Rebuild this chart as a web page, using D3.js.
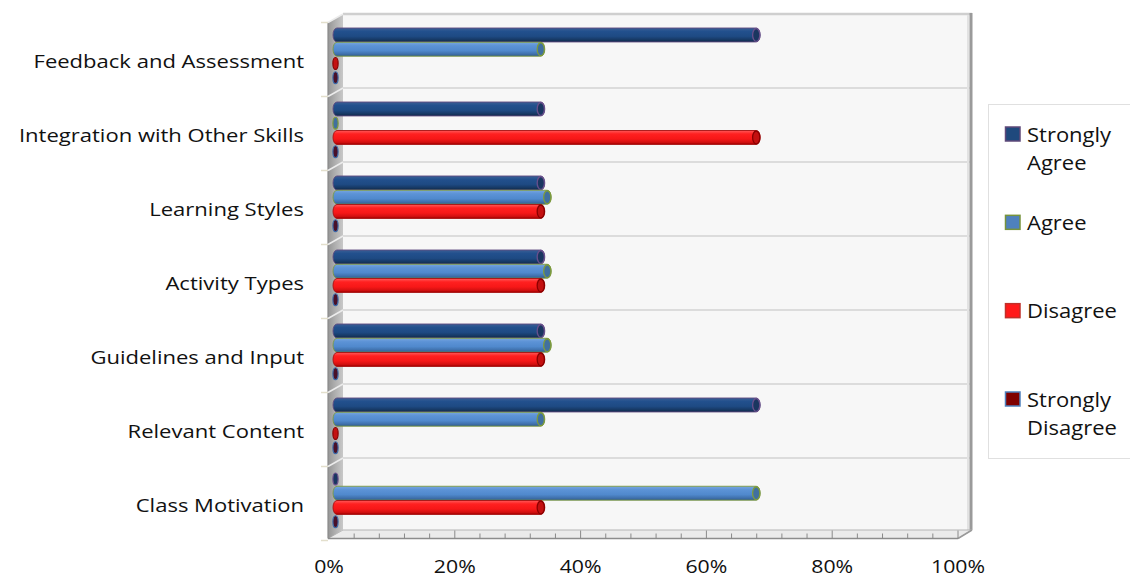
<!DOCTYPE html>
<html>
<head>
<meta charset="utf-8">
<script src="https://cdn.jsdelivr.net/npm/d3@7/dist/d3.min.js"></script>
<style>
  html, body { margin: 0; padding: 0; background: #ffffff; }
  svg { display: block; }
  text { font-family: "Open Sans", "Liberation Sans", sans-serif; fill: #111; }
</style>
</head>
<body>
<svg id="chart" width="1130" height="579"></svg>
<script>
const categories = ["Feedback and Assessment", "Integration with Other Skills", "Learning Styles",
  "Activity Types", "Guidelines and Input", "Relevant Content", "Class Motivation"];
const series = ["Strongly Agree", "Agree", "Disagree", "Strongly Disagree"];
const stronglyAgree    = [66.7, 33.3, 33.3, 33.3, 33.3, 66.7, 0];
const agree            = [33.3, 0, 34.3, 34.3, 34.3, 33.3, 66.7];
const disagree         = [0, 66.7, 33.3, 33.3, 33.3, 0, 33.3];
const stronglyDisagree = [0, 0, 0, 0, 0, 0, 0];
const tickValues = [0, 20, 40, 60, 80, 100];
const tickLabels = ["0%", "20%", "40%", "60%", "80%", "100%"];

const seriesValues = [stronglyAgree, agree, disagree, stronglyDisagree];

const svg = d3.select("#chart");
const defs = svg.append("defs");

// geometry
const wallTop = 14, wallBottom = 530;
const dx = 15, dy = 8.5;           // 3D depth offset
const backLeft = 343, backRight = 972;
const frontLeft = backLeft - dx, frontRight = 958;

const yBand = d3.scaleBand().domain(categories).range([wallTop, wallBottom + 2]);
const ySeries = d3.scaleBand().domain(series).range([14, 71]);
const xFront = d3.scaleLinear().domain([0, 100]).range([329, 958]);
const xBar = d3.scaleLinear().domain([0, 100]).range([330, 975]);

const styles = {
  "Strongly Agree":    {stops: ["#3b5f95", "#22508d", "#1e4a83", "#163863", "#0f2848"], stroke: "#5f4a80", cap: "#1a3660", capStroke: "#6a4f8c", swatch: "#1f497d", swatchStroke: "#5f497a"},
  "Agree":             {stops: ["#78a6df", "#5c93d6", "#5089cd", "#3f70ab", "#2f5a8c"], stroke: "#7d9a3e", cap: "#41709f", capStroke: "#7f9c3a", swatch: "#4f81bd", swatchStroke: "#77933c"},
  "Disagree":          {stops: ["#ff5a5a", "#ff2020", "#f71818", "#d21010", "#a00000"], stroke: "#a51010", cap: "#c41010", capStroke: "#8a0000", swatch: "#ff1a1a", swatchStroke: "#c0302a"},
  "Strongly Disagree": {stops: ["#7a2030", "#5a1020", "#4a0f1e", "#3a1026", "#2a0c1e"], stroke: "#3f6aa8", cap: "#4a1028", capStroke: "#3f6aa8", swatch: "#7f0000", swatchStroke: "#4f81bd"}
};

series.forEach((s, i) => {
  const g = defs.append("linearGradient").attr("id", "grad" + i)
    .attr("x1", 0).attr("y1", 0).attr("x2", 0).attr("y2", 1);
  [0, 0.25, 0.6, 0.85, 1].forEach((o, k) => g.append("stop").attr("offset", o).attr("stop-color", styles[s].stops[k]));
});
const wallGrad = defs.append("linearGradient").attr("id", "wallGrad").attr("x1", 0).attr("y1", 0).attr("x2", 1).attr("y2", 0);
wallGrad.append("stop").attr("offset", 0).attr("stop-color", "#959595");
wallGrad.append("stop").attr("offset", 0.5).attr("stop-color", "#b0b0b0");
wallGrad.append("stop").attr("offset", 1).attr("stop-color", "#c8c8c8");

// back wall
svg.append("rect").attr("x", backLeft).attr("y", wallTop).attr("width", backRight - backLeft).attr("height", wallBottom - wallTop)
  .attr("fill", "#f7f7f7");
svg.append("line").attr("x1", backLeft).attr("x2", backRight).attr("y1", wallTop).attr("y2", wallTop)
  .attr("stroke", "#cfcfcf").attr("stroke-width", 2.5);

// gridlines at category boundaries
const boundaries = categories.map(c => yBand(c)).concat([yBand.range()[1]]);
svg.append("g").selectAll("line").data(boundaries.slice(1, -1)).join("line")
  .attr("x1", backLeft).attr("x2", backRight).attr("y1", d => d).attr("y2", d => d)
  .attr("stroke", "#dcdcdc").attr("stroke-width", 2);

// right edge of back wall
svg.append("line").attr("x1", backRight - 1).attr("x2", backRight - 1).attr("y1", wallTop - 1).attr("y2", wallBottom)
  .attr("stroke", "#9a9a9a").attr("stroke-width", 3);
svg.append("line").attr("x1", backRight - 4).attr("x2", backRight - 4).attr("y1", wallTop + 1).attr("y2", wallBottom)
  .attr("stroke", "#e2e2e2").attr("stroke-width", 2);

// floor
svg.append("path")
  .attr("d", `M${frontLeft},${wallBottom + dy} L${backLeft},${wallBottom} L${backRight},${wallBottom} L${frontRight},${wallBottom + dy} Z`)
  .attr("fill", "#ebebeb").attr("stroke", "#b5b5b5").attr("stroke-width", 1);
svg.append("line").attr("x1", frontLeft).attr("x2", frontRight).attr("y1", wallBottom + dy).attr("y2", wallBottom + dy)
  .attr("stroke", "#8c8c8c").attr("stroke-width", 1.5);
svg.append("line").attr("x1", frontRight).attr("x2", backRight).attr("y1", wallBottom + dy).attr("y2", wallBottom)
  .attr("stroke", "#9a9a9a").attr("stroke-width", 1.5);

// floor ticks (minor every 4%, major every 20%)
svg.append("g").selectAll("line").data(d3.range(0, 101, 4)).join("line")
  .attr("x1", d => xFront(d)).attr("x2", d => xFront(d))
  .attr("y1", wallBottom + dy).attr("y2", d => (d % 20 === 0 ? wallBottom + 0.5 : wallBottom + 3.5))
  .attr("stroke", "#8a8a8a").attr("stroke-width", 1);

// left wall
svg.append("path")
  .attr("d", `M${frontLeft},${wallTop + dy} L${backLeft},${wallTop} L${backLeft},${wallBottom} L${frontLeft},${wallBottom + dy} Z`)
  .attr("fill", "url(#wallGrad)");
svg.append("line").attr("x1", frontLeft).attr("x2", frontLeft).attr("y1", wallTop + dy).attr("y2", wallBottom + dy)
  .attr("stroke", "#8a8a8a").attr("stroke-width", 1.2);

// category ticks on left wall
const lt = svg.append("g");
lt.selectAll("line.tk").data(boundaries).join("line").attr("class", "tk")
  .attr("x1", frontLeft - 7).attr("x2", frontLeft).attr("y1", d => d + dy).attr("y2", d => d + dy)
  .attr("stroke", "#e3dfcc").attr("stroke-width", 1.5);
lt.selectAll("line.dg").data(boundaries.slice(0, -1)).join("line").attr("class", "dg")
  .attr("x1", frontLeft).attr("x2", backLeft).attr("y1", d => d + dy).attr("y2", d => d)
  .attr("stroke", "#ececec").attr("stroke-width", 1.5);

// bars
const groups = svg.append("g").selectAll("g").data(categories).join("g")
  .attr("transform", c => `translate(0,${yBand(c)})`);

series.forEach((s, si) => {
  const st = styles[s];
  const h = ySeries.bandwidth() - 0.3;
  const vals = seriesValues[si];
  groups.each(function(c, ci) {
    const v = vals[ci];
    const g = d3.select(this);
    const y = ySeries(s);
    const x0 = xBar(0) + 3;
    if (v > 0.5) {
      const xe = xBar(v);
      g.append("rect").attr("x", x0).attr("y", y).attr("width", xe - x0).attr("height", h)
        .attr("rx", 4).attr("ry", h / 2)
        .attr("fill", `url(#grad${si})`).attr("stroke", st.stroke).attr("stroke-width", 0.9);
      g.append("ellipse").attr("cx", xe - 4).attr("cy", y + h / 2).attr("rx", 3.6).attr("ry", h / 2 - 0.5)
        .attr("fill", st.cap).attr("stroke", st.capStroke).attr("stroke-width", 1.3);
    } else {
      g.append("ellipse").attr("cx", x0 + 2.5).attr("cy", y + h / 2).attr("rx", 2.6).attr("ry", h / 2 - 1)
        .attr("fill", st.cap).attr("stroke", st.capStroke).attr("stroke-width", 1.2);
    }
  });
});

// category labels
const SX = 1.16;
svg.append("g").selectAll("text").data(categories).join("text")
  .attr("transform", c => `translate(304,${yBand(c) + yBand.bandwidth() / 2 + 17}) scale(${SX},1)`)
  .attr("text-anchor", "end").attr("font-size", 19).text(c => c);

// x tick labels
svg.append("g").selectAll("text").data(tickValues).join("text")
  .attr("transform", (d, i) => `translate(${xFront(d)},573) scale(1.15,1)`)
  .attr("text-anchor", "middle").attr("font-size", 18.5).text((d, i) => tickLabels[i]);

// legend
svg.append("rect").attr("x", 988.5).attr("y", 104.5).attr("width", 160).attr("height", 354)
  .attr("fill", "#ffffff").attr("stroke", "#e0e0e0").attr("stroke-width", 1);
const yLeg = d3.scalePoint().domain(series).range([134, 399]);
const leg = svg.append("g").selectAll("g").data(series).join("g")
  .attr("transform", s => `translate(1005,${yLeg(s)})`);
leg.append("rect").attr("x", 0.5).attr("y", -7).attr("width", 14.5).attr("height", 14)
  .attr("fill", s => styles[s].swatch).attr("stroke", s => styles[s].swatchStroke).attr("stroke-width", 1.5);
leg.each(function(s) {
  const words = s.split(" ");
  const lines = words.length > 1 ? words : [s];
  d3.select(this).selectAll("text").data(lines).join("text")
    .attr("transform", (w, i) => `translate(22,${7.5 + i * 28}) scale(1.1,1)`)
    .attr("font-size", 20).text(w => w);
});
</script>
</body>
</html>
